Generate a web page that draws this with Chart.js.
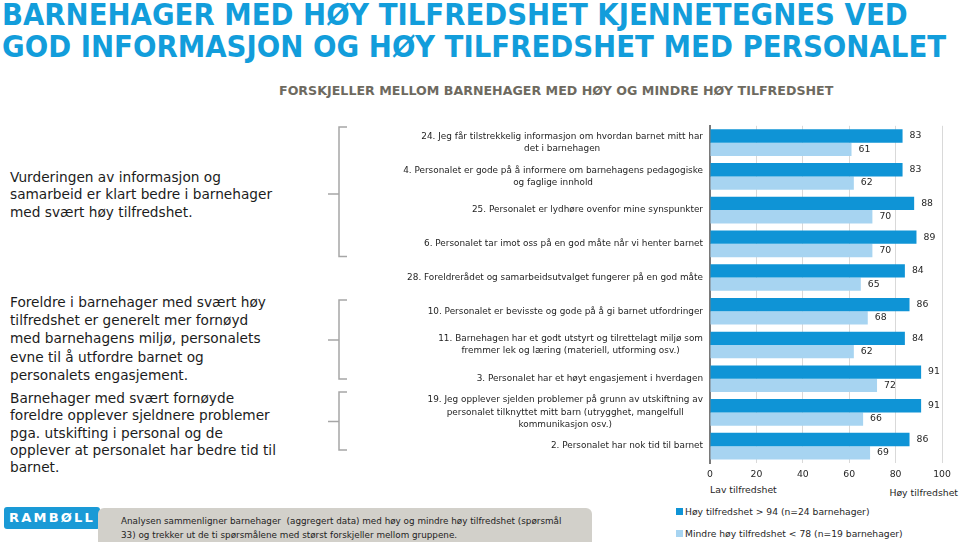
<!DOCTYPE html>
<html><head><meta charset="utf-8">
<script src="https://cdn.jsdelivr.net/npm/chart.js@4.4.1/dist/chart.umd.min.js"></script>
<style>
html,body{margin:0;padding:0;background:#fff;}
body{width:959px;height:542px;position:relative;overflow:hidden;font-family:"DejaVu Sans",Verdana,sans-serif;}
.t{position:absolute;white-space:nowrap;transform-origin:0 0;}
.title{left:2px;font-size:29.5px;line-height:32px;font-weight:bold;color:#129ddb;}
.sub{left:279px;top:83px;font-size:13px;line-height:16px;font-weight:bold;color:#6e6a5f;}
.left{left:10px;font-size:13.7px;line-height:17.3px;color:#1c1c1c;}
#wrap{position:absolute;left:360px;top:110px;width:599px;height:373px;}
.ax{font-size:9.3px;color:#262626;line-height:12px;}
.leg{position:absolute;left:676px;font-size:9.2px;color:#262626;line-height:12px;white-space:nowrap;}
.leg i{display:inline-block;width:7px;height:7px;margin-right:2px;vertical-align:0px;}
#note{position:absolute;left:98px;top:508px;width:494px;height:40px;background:#d2d0ca;border-radius:6px;box-sizing:border-box;padding:6px 0 0 23px;font-size:8.8px;line-height:14px;color:#222;white-space:nowrap;}
#logo{position:absolute;left:4px;top:507px;width:96px;height:22px;background:#1a9ad6;border-radius:3px;color:#fff;font-weight:bold;font-size:13px;letter-spacing:2.2px;text-align:center;line-height:22px;}
</style></head>
<body>
<div class="t title" style="top:-1px" data-fit="906">BARNEHAGER MED HØY TILFREDSHET KJENNETEGNES VED</div>
<div class="t title" style="top:31px" data-fit="944">GOD INFORMASJON OG HØY TILFREDSHET MED PERSONALET</div>
<div class="t sub" data-fit="554">FORSKJELLER MELLOM BARNEHAGER MED HØY OG MINDRE HØY TILFREDSHET</div>

<div class="t left" style="top:169px">Vurderingen av informasjon og<br>samarbeid er klart bedre i barnehager<br>med svært høy tilfredshet.</div>
<div class="t left" style="top:293px;line-height:18.2px">Foreldre i barnehager med svært høy<br>tilfredshet er generelt mer fornøyd<br>med barnehagens miljø, personalets<br>evne til å utfordre barnet og<br>personalets engasjement.</div>
<div class="t left" style="top:390px">Barnehager med svært fornøyde<br>foreldre opplever sjeldnere problemer<br>pga. utskifting i personal og de<br>opplever at personalet har bedre tid til<br>barnet.</div>

<svg style="position:absolute;left:0;top:0" width="959" height="542">
<g fill="none" stroke="#a6a6a6" stroke-width="1.5">
<path d="M347 127 L339 127 L339 256.5 L347 256.5 M339 194 L328 194"/>
<path d="M347 300 L339 300 L339 379 L347 379 M339 340 L328 340"/>
<path d="M347 392 L339 392 L339 450 L347 450 M339 421.5 L328 421.5"/>
</g>
</svg>

<div id="wrap"><canvas id="c"></canvas></div>
<div class="t ax" id="lowLbl" style="left:710px;top:484px"></div>
<div class="t ax" id="highLbl" style="right:1px;top:487px"></div>
<div id="legend"></div>

<div id="logo">RAMBØLL</div>
<div id="note">Analysen sammenligner barnehager&nbsp; (aggregert data) med høy og mindre høy tilfredshet (spørsmål<br>33) og trekker ut de ti spørsmålene med størst forskjeller mellom gruppene.</div>

<script>
const categories = [
  ["24. Jeg får tilstrekkelig informasjon om hvordan barnet mitt har", "det i barnehagen"],
  ["4. Personalet er gode på å informere om barnehagens pedagogiske", "og faglige innhold"],
  ["25. Personalet er lydhøre ovenfor mine synspunkter"],
  ["6. Personalet tar imot oss på en god måte når vi henter barnet"],
  ["28. Foreldrerådet og samarbeidsutvalget fungerer på en god måte"],
  ["10. Personalet er bevisste og gode på å gi barnet utfordringer"],
  ["11. Barnehagen har et godt utstyrt og tilrettelagt miljø som", "fremmer lek og læring (materiell, utforming osv.)"],
  ["3. Personalet har et høyt engasjement i hverdagen"],
  ["19. Jeg opplever sjelden problemer på grunn av utskiftning av", "personalet tilknyttet mitt barn (utrygghet, mangelfull", "kommunikasjon osv.)"],
  ["2. Personalet har nok tid til barnet"]
];
const seriesNames = ["Høy tilfredshet > 94 (n=24 barnehager)", "Mindre høy tilfredshet < 78 (n=19 barnehager)"];
const highValues = [83, 83, 88, 89, 84, 86, 84, 91, 91, 86];
const lowValues  = [61, 62, 70, 70, 65, 68, 62, 72, 66, 69];
const xTicks = [0, 20, 40, 60, 80, 100];
const axisEndLabels = ["Lav tilfredshet", "Høy tilfredshet"];
const seriesColors = ["#0f94d6", "#a7d4f1"];

// fit wide texts
document.querySelectorAll('[data-fit]').forEach(el => {
  const w = el.scrollWidth;
  el.style.transform = 'scaleX(' + (+el.dataset.fit / w) + ')';
});

document.getElementById('lowLbl').textContent = axisEndLabels[0];
document.getElementById('highLbl').textContent = axisEndLabels[1];
const legendEl = document.getElementById('legend');
seriesNames.forEach((n, i) => {
  const d = document.createElement('div');
  d.className = 'leg';
  d.style.top = (506 + i * 22) + 'px';
  d.innerHTML = '<i style="background:' + seriesColors[i] + '"></i>';
  d.appendChild(document.createTextNode(n));
  legendEl.appendChild(d);
});

const labelPlugin = {
  id: 'labelPlugin',
  afterDatasetsDraw(chart) {
    const {ctx, chartArea} = chart;
    const y = chart.scales.y;
    ctx.save();
    ctx.fillStyle = '#1e1e1e';
    ctx.textBaseline = 'middle';
    ctx.font = '8.9px "DejaVu Sans"';
    ctx.textAlign = 'center';
    categories.forEach((lines, i) => {
      const cy = y.getPixelForValue(i);
      const w = Math.max(...lines.map(l => ctx.measureText(l).width));
      const cx = chartArea.left - 7 - w / 2;
      const lh = 12.3;
      lines.forEach((l, k) => ctx.fillText(l, cx, cy + (k - (lines.length - 1) / 2) * lh));
    });
    ctx.font = '9.3px "DejaVu Sans"';
    ctx.textAlign = 'left';
    ctx.fillStyle = '#262626';
    chart.data.datasets.forEach((ds, di) => {
      chart.getDatasetMeta(di).data.forEach((bar, i) => {
        ctx.fillText(String(ds.data[i]), bar.x + 7, bar.y);
      });
    });
    ctx.restore();
  }
};

new Chart(document.getElementById('c'), {
  type: 'bar',
  data: {
    labels: categories,
    datasets: [
      {label: seriesNames[0], data: highValues, backgroundColor: seriesColors[0], categoryPercentage: 0.79, barPercentage: 1.0},
      {label: seriesNames[1], data: lowValues, backgroundColor: seriesColors[1], categoryPercentage: 0.79, barPercentage: 1.0}
    ]
  },
  options: {
    indexAxis: 'y',
    responsive: true,
    maintainAspectRatio: false,
    animation: false,
    layout: {padding: {top: 15.8, right: 17, left: 0, bottom: 0}},
    plugins: {legend: {display: false}, tooltip: {enabled: false}},
    scales: {
      x: {
        min: 0, max: 100,
        afterBuildTicks: s => { s.ticks = xTicks.map(v => ({value: v})); },
        afterFit: s => { s.height = 20; },
        ticks: {font: {family: 'DejaVu Sans', size: 9.3}, color: '#262626', padding: 6},
        grid: {color: '#d9d9d9', drawTicks: false, lineWidth: 1},
        border: {display: false}
      },
      y: {
        afterFit: s => { s.width = 350; },
        ticks: {display: false},
        grid: {display: false, drawTicks: false},
        border: {color: '#7a7a7a', width: 2}
      }
    }
  },
  plugins: [labelPlugin]
});
</script>
</body></html>
